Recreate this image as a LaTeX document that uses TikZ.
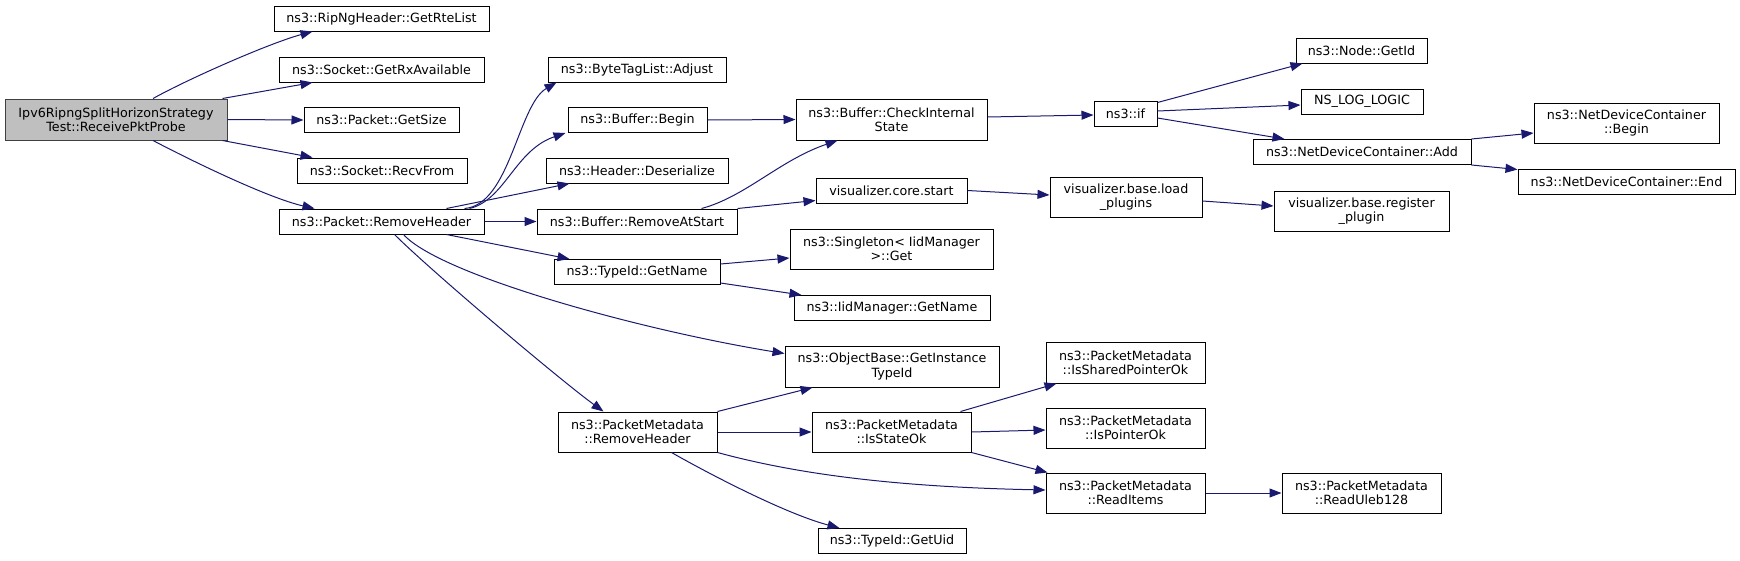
\documentclass[tikz,border=0pt]{standalone}
\usepackage{fontspec}
\newfontfamily\dvs{DejaVu Sans}
\usetikzlibrary{arrows.meta}
\definecolor{edgeblue}{HTML}{191970}
\definecolor{maingray}{HTML}{BFBFBF}
\definecolor{mainborder}{HTML}{404040}
\tikzset{
  nd/.style={draw=black, line width=1pt, inner sep=0pt, align=center, rectangle,
    font=\dvs\fontsize{12.7}{14.3}\selectfont, minimum height=25pt},
  nd2/.style={nd, minimum height=40pt},
  mainnd/.style={nd2, fill=maingray, draw=mainborder, minimum height=41pt},
  edge/.style={draw=edgeblue, line width=1pt, -{Triangle[length=12pt,width=9pt]}, edgeblue}
}
\begin{document}
\begin{tikzpicture}[x=1pt,y=-1pt]
\useasboundingbox (0,0) rectangle (1740,560);
% column 1
\node[mainnd, minimum width=222pt] (main) at (116,119.5) {Ipv6RipngSplitHorizonStrategy\\Test::ReceivePktProbe};
% column 2
\node[nd, minimum width=215pt] (rte) at (381.5,18.5) {ns3::RipNgHeader::GetRteList};
\node[nd, minimum width=205pt] (rx) at (381.5,69.5) {ns3::Socket::GetRxAvailable};
\node[nd, minimum width=155pt] (gs) at (381.5,120) {ns3::Packet::GetSize};
\node[nd, minimum width=170pt] (rf) at (382,170.5) {ns3::Socket::RecvFrom};
\node[nd, minimum width=205pt] (prh) at (381.5,221.5) {ns3::Packet::RemoveHeader};
% column 3
\node[nd, minimum width=178pt] (adj) at (637,69.5) {ns3::ByteTagList::Adjust};
\node[nd, minimum width=139pt] (bb) at (637.5,120) {ns3::Buffer::Begin};
\node[nd, minimum width=182pt] (hd) at (637,170.5) {ns3::Header::Deserialize};
\node[nd, minimum width=200pt] (ras) at (637,221.5) {ns3::Buffer::RemoveAtStart};
\node[nd, minimum width=166pt] (tgn) at (637,272) {ns3::TypeId::GetName};
\node[nd2, minimum width=159pt] (pmrh) at (637.5,432) {ns3::PacketMetadata\\::RemoveHeader};
% column 4
\node[nd2, minimum width=191pt, minimum height=41pt] (cis) at (891.5,119.5) {ns3::Buffer::CheckInternal\\State};
\node[nd, minimum width=151pt] (vcs) at (891.5,190.5) {visualizer.core.start};
\node[nd2, minimum width=203pt] (sig) at (891.5,249) {ns3::Singleton< IidManager\\ >::Get};
\node[nd, minimum width=196pt] (iid) at (892,308) {ns3::IidManager::GetName};
\node[nd2, minimum width=214pt, minimum height=41pt] (obi) at (892,366.5) {ns3::ObjectBase::GetInstance\\TypeId};
\node[nd2, minimum width=159pt] (iso) at (891.5,432) {ns3::PacketMetadata\\::IsStateOk};
\node[nd, minimum width=148pt] (uid) at (892,541) {ns3::TypeId::GetUid};
% column 5
\node[nd, minimum width=63pt] (if) at (1125.5,113.5) {ns3::if};
\node[nd2, minimum width=152pt] (lp) at (1126,197) {visualizer.base.load\\\_plugins};
\node[nd2, minimum width=159pt, minimum height=41pt] (spo) at (1125.5,362.5) {ns3::PacketMetadata\\::IsSharedPointerOk};
\node[nd2, minimum width=159pt] (ipo) at (1125.5,428) {ns3::PacketMetadata\\::IsPointerOk};
\node[nd2, minimum width=159pt] (ri) at (1125.5,493) {ns3::PacketMetadata\\::ReadItems};
% column 6
\node[nd, minimum width=131pt] (gid) at (1361.5,50.5) {ns3::Node::GetId};
\node[nd, minimum width=122pt] (log) at (1362,101.5) {NS\_LOG\_LOGIC};
\node[nd, minimum width=218pt] (add) at (1362,152) {ns3::NetDeviceContainer::Add};
\node[nd2, minimum width=175pt] (rp) at (1361.5,211) {visualizer.base.register\\\_plugin};
\node[nd2, minimum width=159pt] (rul) at (1361.5,493) {ns3::PacketMetadata\\::ReadUleb128};
% column 7
\node[nd2, minimum width=185pt] (ndcb) at (1626.5,123) {ns3::NetDeviceContainer\\::Begin};
\node[nd, minimum width=217pt] (ndce) at (1626.5,181.5) {ns3::NetDeviceContainer::End};

% edges from main
\draw[edge] ([xshift=37pt]main.north) .. controls (190,78) and (270,43) .. ([xshift=39pt]rte.south west);
\draw[edge] ([xshift=-5pt]main.north east) -- ([xshift=34pt]rx.south west);
\draw[edge] (main.east) -- (gs.west);
\draw[edge] ([xshift=-5pt]main.south east) -- ([xshift=16pt]rf.north west);
\draw[edge] ([xshift=37pt]main.south) .. controls (190,160) and (268,198) .. ([xshift=36pt]prh.north west);
% edges from Packet::RemoveHeader
\draw[edge] ([xshift=186pt]prh.north west) .. controls (510,205) and (518,105) .. ([xshift=9pt]adj.south west);
\draw[edge] ([xshift=191pt]prh.north west) .. controls (505,200) and (515,150) .. ([xshift=-2pt]bb.south west);
\draw[edge] ([xshift=168pt]prh.north west) -- ([xshift=24pt]hd.south west);
\draw[edge] (prh.east) -- (ras.west);
\draw[edge] ([xshift=168pt]prh.south west) -- ([xshift=16pt]tgn.north west);
\draw[edge] ([xshift=125pt]prh.south west) .. controls (440,275) and (640,330) .. ([yshift=-8pt]obi.north west);
\draw[edge] ([xshift=116pt]prh.south west) .. controls (430,270) and (560,380) .. ([xshift=46pt]pmrh.north west);
% column 3 -> 4
\draw[edge] (bb.east) -- (cis.west);
\draw[edge] ([xshift=165pt]ras.north west) .. controls (745,197) and (780,160) .. ([xshift=42pt]cis.south west);
\draw[edge] (ras.north east) -- ([yshift=3pt]vcs.south west);
\draw[edge] ([yshift=8pt]tgn.east) -- ([yshift=-9pt]sig.west);
\draw[edge] ([yshift=-11pt]tgn.east) -- ([xshift=8pt]iid.north west);
\draw[edge] (pmrh.north east) -- ([xshift=28pt]obi.south west);
\draw[edge] (pmrh.east) -- (iso.west);
\draw[edge] (pmrh.south east) .. controls (800,475) and (900,487) .. ([yshift=3pt]ri.west);
\draw[edge] ([xshift=114pt]pmrh.south west) .. controls (720,480) and (790,515) .. ([xshift=22pt]uid.north west);
% column 4 -> 5
\draw[edge] ([yshift=2.5pt]cis.east) -- ([yshift=-1.5pt]if.west);
\draw[edge] (vcs.east) -- ([yshift=2pt]lp.west);
\draw[edge] ([xshift=-11pt]iso.north east) -- ([xshift=11pt]spo.south west);
\draw[edge] (iso.east) -- ([yshift=-2pt]ipo.west);
\draw[edge] (iso.south east) -- ([xshift=2pt]ri.north west);
% column 5 -> 6
\draw[edge] ([yshift=-2pt]if.north east) -- ([xshift=7pt]gid.south west);
\draw[edge] ([yshift=2.5pt]if.east) -- ([yshift=-3.5pt]log.west);
\draw[edge] ([yshift=-4.5pt]if.east) -- ([xshift=32pt]add.north west);
\draw[edge] ([yshift=-4pt]lp.east) -- ([yshift=5pt]rp.west);
\draw[edge] (ri.east) -- (rul.west);
% column 6 -> 7
\draw[edge] (add.north east) -- ([yshift=-10pt]ndcb.west);
\draw[edge] (add.south east) -- ([yshift=-1pt]ndce.north west);
\end{tikzpicture}
\end{document}
